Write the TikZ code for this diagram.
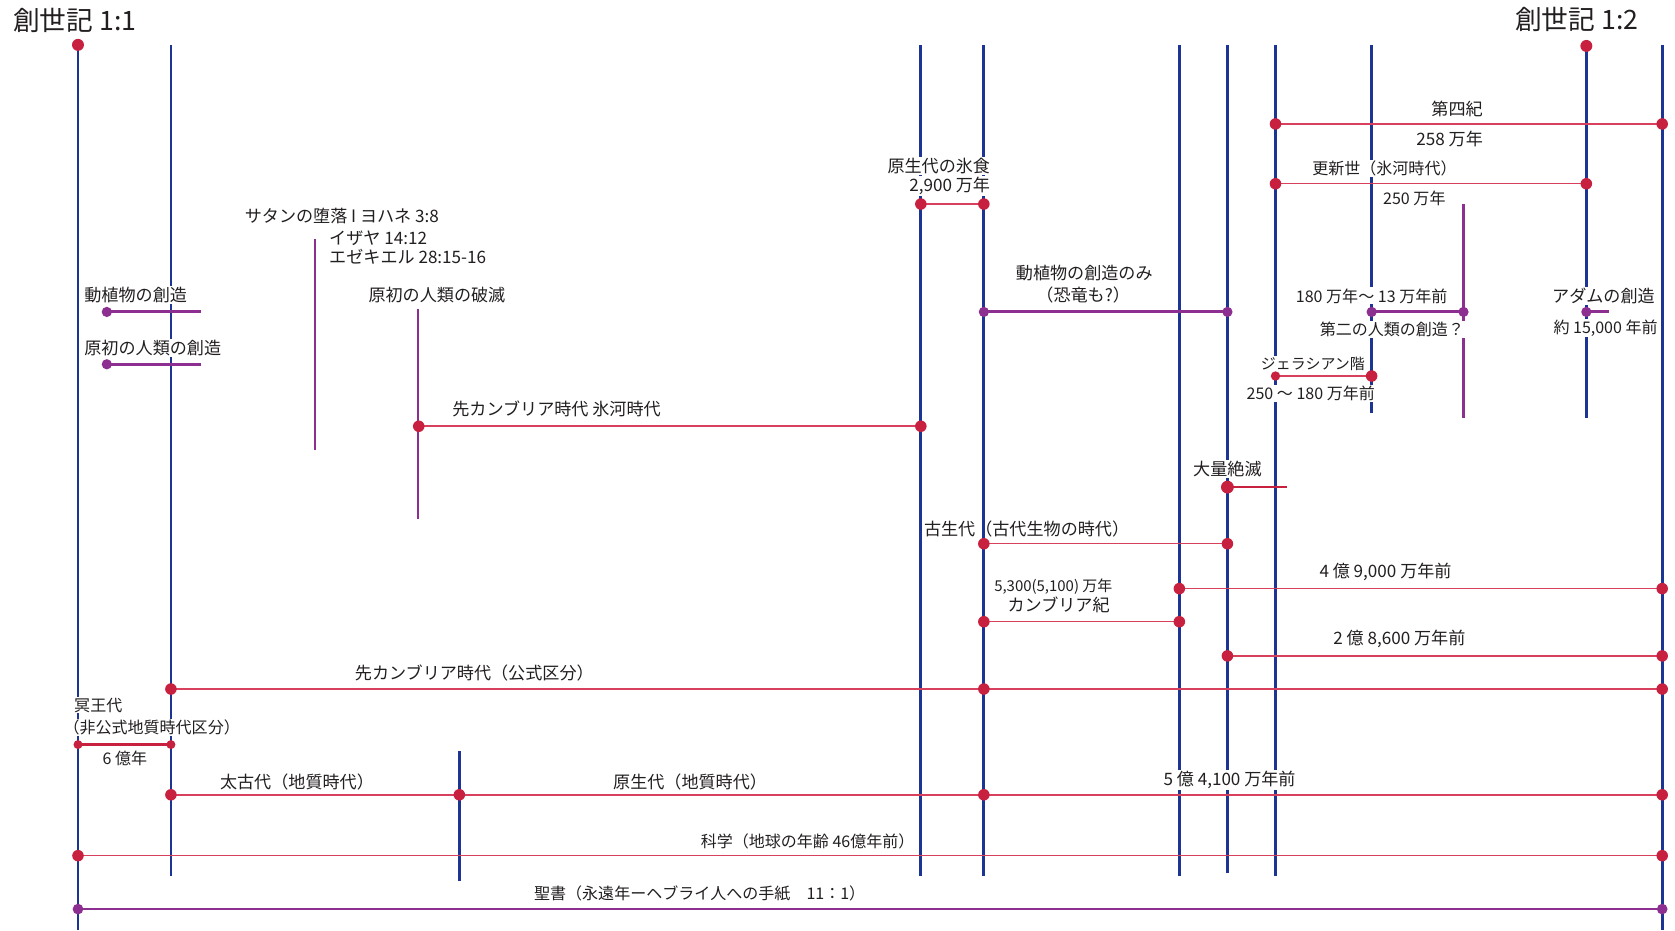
\documentclass[tikz,border=0pt]{standalone}
\usepackage{fontspec}
\setmainfont{Noto Sans CJK JP}
\definecolor{vblue}{HTML}{1C3494}
\definecolor{rdotc}{HTML}{C8203F}
\definecolor{rlinec}{HTML}{D8405E}
\definecolor{purp}{HTML}{8C2F90}
\definecolor{txt}{HTML}{231F20}
\tikzset{
  vline/.style={draw=vblue, line width=2.6pt},
  pvline/.style={draw=purp, line width=2.2pt},
  hline/.style={draw=rlinec, line width=1.4pt},
  hthick/.style={draw=rdotc, line width=2.4pt},
  phline/.style={draw=purp, line width=2.8pt},
  pthin/.style={draw=purp, line width=1.5pt},
  rdot/.style={fill=rdotc},
  pdot/.style={fill=purp},
  lbl/.style={text=txt, font=\fontsize{16}{18}\selectfont, inner sep=1pt, fill=white},
  lbls/.style={lbl, font=\fontsize{15}{17}\selectfont},
  lblxs/.style={lbl, font=\fontsize{14}{16}\selectfont},
  lblnf/.style={text=txt, font=\fontsize{16}{18}\selectfont, inner sep=1pt},
  ttl/.style={text=txt, font=\fontsize{25}{28}\selectfont, inner sep=0pt},
}
\begin{document}
\begin{tikzpicture}[x=1pt,y=-1pt]
\useasboundingbox (0,0) rectangle (1568,871);
% ---------- coordinates of vertical lines
\coordinate (v1t) at (73,42);   \coordinate (v1b) at (73,871);
\coordinate (v2t) at (160,42);  \coordinate (v2b) at (160,820);
\coordinate (v3t) at (862,42);  \coordinate (v3b) at (862,820);
\coordinate (v4t) at (921,42);  \coordinate (v4b) at (921,820);
\coordinate (v5t) at (1104,42); \coordinate (v5b) at (1104,820);
\coordinate (v6t) at (1149,42); \coordinate (v6b) at (1149,817);
\coordinate (v7t) at (1194,42); \coordinate (v7b) at (1194,820);
\coordinate (v8t) at (1284,42); \coordinate (v8b) at (1284,387);
\coordinate (v9t) at (1485,43); \coordinate (v9b) at (1485,391);
\coordinate (v10t) at (1556,42); \coordinate (v10b) at (1556,871);
\coordinate (v11t) at (430,703); \coordinate (v11b) at (430,825);
\coordinate (p1t) at (295,224); \coordinate (p1b) at (295,421);
\coordinate (p2t) at (391,289); \coordinate (p2b) at (391,486);
\coordinate (p3t) at (1370,191); \coordinate (p3b) at (1370,391);
% ---------- vertical lines
\foreach \n in {1,...,11} \draw[vline] (v\n t) -- (v\n b);
\foreach \n in {1,2,3} \draw[pvline] (p\n t) -- (p\n b);
% ---------- labels (white backgrounds interrupt the verticals)
\node[ttl] (t1) at (70,19) {創世記 1:1};
\node[ttl] (t2) at (1476,18) {創世記 1:2};
\node[lbl] (l1) at (1364,102) {第四紀};
\node[lbl] (l2) at (1357,130) {258 万年};
\node[lbls] (l3) at (1296,158) {更新世（氷河時代）};
\node[lbls] (l4) at (1324,186) {250 万年};
\node[lbl, anchor=east] (l5) at (928,155) {原生代の氷食};
\node[lbl, anchor=east] (l6) at (928,174) {2,900 万年};
\node[lbl] (l7) at (320,202) {サタンの堕落 I ヨハネ 3:8};
\node[lbl, anchor=west] (l8) at (307,223) {イザヤ 14:12};
\node[lbl, anchor=west] (l9) at (307,240) {エゼキエル 28:15-16};
\node[lbl] (l10) at (127,276) {動植物の創造};
\node[lbl] (l11) at (143,326) {原初の人類の創造};
\node[lbl] (l12) at (409,276) {原初の人類の破滅};
\node[lbl] (l13) at (1015,256) {動植物の創造のみ};
\node[lbl] (l14) at (1014,276) {（恐竜も?）};
\node[lbls] (l15) at (1284,277) {180 万年〜 13 万年前};
\node[lbls] (l16) at (1303,308) {第二の人類の創造？};
\node[lbl] (l17) at (1501,277) {アダムの創造};
\node[lbls] (l18) at (1503,307) {約 15,000 年前};
\node[lblxs] (l19) at (1229,341) {ジェラシアン階};
\node[lbls] (l20) at (1227,368) {250 〜 180 万年前};
\node[lbl] (l21) at (521,383) {先カンブリア時代 氷河時代};
\node[lbl] (l22) at (1149,439) {大量絶滅};
\node[lblnf] (l23) at (961,495) {古生代（古代生物の時代）};
\node[lbl] (l24) at (1297,535) {4 億 9,000 万年前};
\node[lblxs] (l25) at (986,549) {5,300(5,100) 万年};
\node[lbl] (l26) at (991,566) {カンブリア紀};
\node[lbl] (l27) at (1310,598) {2 億 8,600 万年前};
\node[lbl] (l28) at (444,630) {先カンブリア時代（公式区分）};
\node[lbls] (l29) at (92,660) {冥王代};
\node[lbls] (l30) at (142,681) {（非公式地質時代区分）};
\node[lbls] (l31) at (117,710) {6 億年};
\node[lbl] (l32) at (278,732) {太古代（地質時代）};
\node[lbl] (l33) at (646,732) {原生代（地質時代）};
\node[lbl] (l34) at (1151,730) {5 億 4,100 万年前};
\node[lbls] (l35) at (756,788) {科学（地球の年齢 46億年前）};
\node[lbls] (l36) at (655,836) {聖書（永遠年ーヘブライ人への手紙　11：1）};
% ---------- horizontal coordinates
\coordinate (h1a) at (1194,116); \coordinate (h1b) at (1556,116);
\coordinate (h2a) at (1194,172); \coordinate (h2b) at (1485,172);
\coordinate (h3a) at (862,191);  \coordinate (h3b) at (921,191);
\coordinate (h4a) at (1194,352); \coordinate (h4b) at (1284,352);
\coordinate (h5a) at (392,399);  \coordinate (h5b) at (862,399);
\coordinate (h6a) at (1149,456); \coordinate (h6b) at (1205,456);
\coordinate (h7a) at (921,509);  \coordinate (h7b) at (1149,509);
\coordinate (h8a) at (1104,551); \coordinate (h8b) at (1556,551);
\coordinate (h9a) at (921,582);  \coordinate (h9b) at (1104,582);
\coordinate (h10a) at (1149,614); \coordinate (h10b) at (1556,614);
\coordinate (h11a) at (160,645); \coordinate (h11m) at (921,645); \coordinate (h11b) at (1556,645);
\coordinate (h12a) at (73,697);  \coordinate (h12b) at (160,697);
\coordinate (h13a) at (160,744); \coordinate (h13m) at (430,744); \coordinate (h13n) at (921,744); \coordinate (h13b) at (1556,744);
\coordinate (h14a) at (73,801);  \coordinate (h14b) at (1556,801);
\coordinate (h15a) at (73,851);  \coordinate (h15b) at (1556,851);
\coordinate (q1a) at (100,292);  \coordinate (q1b) at (188,292);
\coordinate (q2a) at (100,341);  \coordinate (q2b) at (188,341);
\coordinate (q3a) at (921,292);  \coordinate (q3b) at (1149,292);
\coordinate (q4a) at (1284,292); \coordinate (q4b) at (1370,292);
\coordinate (q5a) at (1485,292); \coordinate (q5b) at (1506,292);
% ---------- horizontal lines
\foreach \n in {1,2,4,5,7,8,9,10,11,13,14} \draw[hline] (h\n a) -- (h\n b);
\draw[hline, line width=2pt] (h3a) -- (h3b);
\draw[hthick] (h6a) -- (h6b);
\draw[hthick] (h12a) -- (h12b);
\draw[pthin] (h15a) -- (h15b);
\foreach \n in {1,...,5} \draw[phline] (q\n a) -- (q\n b);
% ---------- dots
\fill[rdot] (v1t) circle (5.6pt);
\fill[rdot] (v9t) circle (5.6pt);
\foreach \c in {h1a,h1b,h2a,h2b,h3a,h3b,h4b,h5a,h5b,h7a,h7b,h8a,h8b,h9a,h9b,h10a,h10b,h11a,h11m,h11b,h13a,h13m,h13n,h13b,h14a,h14b}
  \fill[rdot] (\c) circle (5.4pt);
\fill[rdot] (h4a) circle (4.4pt);
\fill[rdot] (h6a) circle (6pt);
\fill[rdot] (h12a) circle (4.2pt);
\fill[rdot] (h12b) circle (4.2pt);
\fill[pdot] (h15a) circle (5pt);
\fill[pdot] (h15b) circle (5pt);
\foreach \c in {q1a,q2a,q3a,q3b,q4a,q4b,q5a}
  \fill[pdot] (\c) circle (4.8pt);
\end{tikzpicture}
\end{document}
